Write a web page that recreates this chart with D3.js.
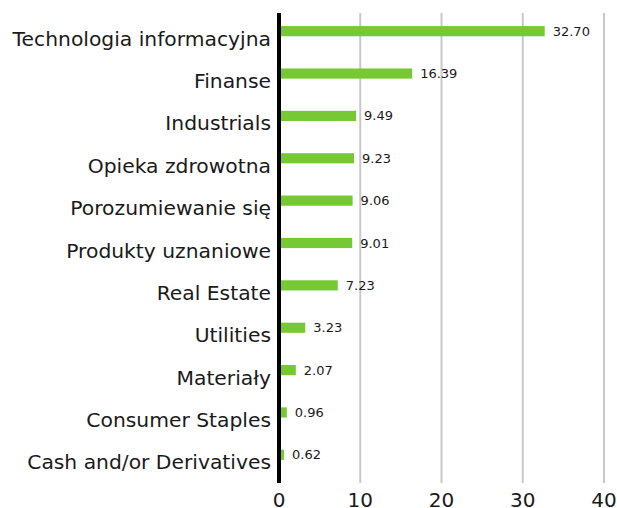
<!DOCTYPE html>
<html><head><meta charset="utf-8">
<script src="https://cdn.jsdelivr.net/npm/d3@7"></script>
<style>body{margin:0;background:#fff;}svg{display:block;}</style>
</head><body>
<svg id="c" width="617" height="508"></svg>
<script>
const categories = ["Technologia informacyjna","Finanse","Industrials","Opieka zdrowotna","Porozumiewanie się","Produkty uznaniowe","Real Estate","Utilities","Materiały","Consumer Staples","Cash and/or Derivatives"];
const values = [32.70,16.39,9.49,9.23,9.06,9.01,7.23,3.23,2.07,0.96,0.62];
const ticks = [0,10,20,30,40];

const svg = d3.select("#c");
const font = "'DejaVu Sans', sans-serif";
const x = d3.scaleLinear().domain([0,40]).range([279,604]);
const y = d3.scaleBand().domain(categories).range([10,476]).paddingInner(0.76).paddingOuter(0.38);

svg.append("g").selectAll("line").data(ticks.slice(1)).join("line")
  .attr("x1",d=>x(d)).attr("x2",d=>x(d)).attr("y1",13).attr("y2",483)
  .attr("stroke","#c8c8c8").attr("stroke-width",2);

svg.append("g").selectAll("rect").data(values).join("rect")
  .attr("x",x(0)).attr("y",(d,i)=>y(categories[i]))
  .attr("width",d=>x(d)-x(0)).attr("height",y.bandwidth())
  .attr("fill","#76c935");

svg.append("g").selectAll("text").data(values).join("text")
  .attr("x",d=>x(d)+8).attr("y",(d,i)=>y(categories[i])+y.bandwidth()/2)
  .attr("dy","0.35em").attr("font-family",font).attr("font-size",13).attr("fill","#1a1a1a")
  .text(d=>d.toFixed(2));

svg.append("g").selectAll("text").data(categories).join("text")
  .attr("x",271).attr("y",d=>y(d)+y.bandwidth()/2+14.5)
  .attr("text-anchor","end").attr("font-family",font).attr("font-size",20.3).attr("fill","#1a1a1a")
  .text(d=>d);

svg.append("line").attr("x1",x(0)).attr("x2",x(0)).attr("y1",13).attr("y2",483)
  .attr("stroke","#000").attr("stroke-width",4);

svg.append("g").selectAll("text").data(ticks).join("text")
  .attr("x",d=>x(d)).attr("y",507).attr("text-anchor","middle")
  .attr("font-family",font).attr("font-size",20).attr("fill","#1a1a1a")
  .text(d=>d);
</script>
</body></html>
